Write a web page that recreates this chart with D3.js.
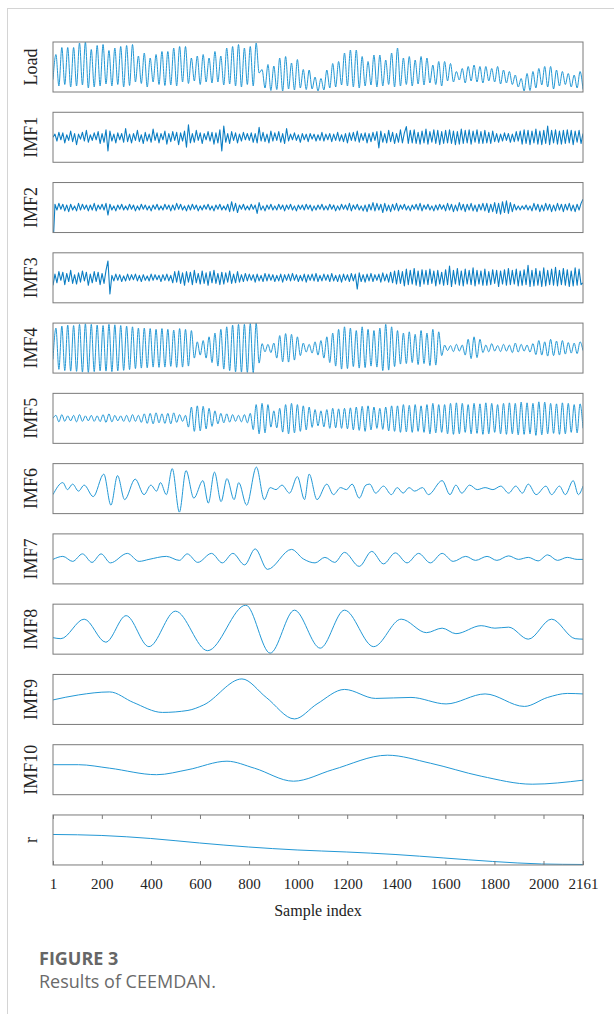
<!DOCTYPE html>
<html>
<head>
<meta charset="utf-8">
<script src="https://cdn.jsdelivr.net/npm/d3@7/dist/d3.min.js"></script>
<style>
  body { margin: 0; background: #fff; }
  svg { display: block; }
</style>
</head>
<body>
<div id="chart"></div>
<script>
// panel order, top to bottom
var panelNames = ['Load', 'IMF1', 'IMF2', 'IMF3', 'IMF4', 'IMF5', 'IMF6', 'IMF7', 'IMF8', 'IMF9', 'IMF10', 'r']
var xTicks = [1, 200, 400, 600, 800, 1000, 1200, 1400, 1600, 1800, 2000, 2161]
var sampleCount = 2161

// Load, read every 12 samples (trough, peak, trough, ...)
var loadStep = 12
var loadSeries = [
  25, 75, 12, 89, 15, 89, 10, 89, 12, 98, 14, 100, 8, 85, 10, 93, 12, 95, 16, 83,
  12, 88, 15, 91, 10, 93, 13, 95, 20, 72, 17, 78, 10, 68, 20, 75, 15, 81, 13, 81,
  14, 88, 12, 91, 20, 91, 17, 68, 22, 72, 15, 75, 20, 68, 18, 81, 20, 72, 14, 88,
  16, 91, 12, 95, 10, 88, 15, 91, 12, 98, 38, 45, 8, 55, 3, 52, 5, 68, 2, 71,
  6, 58, 4, 65, 8, 45, 5, 44, 6, 30, 2, 27, 4, 44, 8, 57, 10, 61, 14, 78,
  12, 84, 10, 84, 8, 71, 12, 61, 14, 74, 10, 74, 12, 64, 15, 78, 10, 88, 12, 68,
  15, 71, 12, 64, 16, 71, 14, 68, 18, 54, 15, 61, 12, 61, 22, 57, 20, 41, 24, 47,
  18, 51, 22, 54, 20, 51, 18, 51, 22, 47, 20, 51, 16, 44, 18, 41, 15, 34, 10, 27,
  2, 37, 3, 41, 8, 47, 14, 51, 10, 51, 6, 44, 12, 41, 15, 37, 10, 34, 8, 41,
  5
]

// IMF1, read every 8 samples
var imf1Step = 8
var imf1Series = [
  0, 5, -6, 8, -4, 7, -9, 4, -5, 10, -7, 6, -12, 5, -3, 8, -6, 11, -8, 4,
  -5, 7, -4, 9, -10, 6, -8, 12, -22, 10, -6, 5, -9, 7, -4, 6, -8, 14, -7, 5,
  -9, 6, -5, 11, -7, 4, -10, 8, -6, 5, -8, 13, -5, 7, -9, 6, -4, 10, -11, 6,
  -7, 9, -5, 8, -12, 7, -6, 10, -16, 20, -9, 6, -8, 11, -5, 7, -10, 6, -4, 9,
  -6, 8, -11, 7, -9, 12, -22, 18, -8, 6, -10, 9, -5, 7, -9, 5, -6, 8, -4, 6,
  -5, 7, -8, 6, -9, 16, -6, 8, -7, 5, -9, 10, -6, 7, -5, 9, -8, 6, -10, 14,
  -6, 5, -4, 7, -5, 4, -8, 6, -4, 5, -7, 6, -3, 5, -6, 4, -5, 8, -6, 5,
  -4, 6, -7, 5, -5, 8, -6, 4, -7, 6, -9, 7, -5, 8, -6, 10, -8, 6, -5, 7,
  -9, 6, -7, 8, -5, 9, -17, 10, -8, 6, -9, 11, -7, 8, -10, 6, -8, 12, -9, 7,
  17, -10, 11, -9, 12, -10, 8, -11, 10, -9, 13, -11, 9, -8, 12, -10, 11, -12, 9, -10,
  11, -9, 12, -10, 10, -12, 9, -11, 13, -10, 11, -9, 12, -11, 10, -8, 12, -10, 9, -10,
  11, -9, 8, -10, 10, -7, 6, -8, 5, -6, 7, -5, 6, -8, 5, -7, 9, -6, 10, -11,
  12, -10, 11, -12, 10, -9, 13, -11, 10, -12, 11, -10, 18, -12, 11, -9, 12, -11, 10, -11,
  11, -10, 12, -9, 11, -12, 10, -8, 11, -10, 6
]

// IMF2, read every 8 samples
var imf2Step = 8
var imf2Series = [
  -48, 4, -3, 5, -2, 4, -4, 3, -5, 4, -3, 2, -4, 5, -3, 4, -2, 3, -4, 3,
  -3, 5, -4, 3, -2, 4, -3, 5, -9, 4, -3, 2, -4, 3, -2, 4, -3, 2, -3, 4,
  -2, 3, -4, 2, -3, 4, -2, 3, -3, 2, -4, 3, -2, 4, -3, 2, -3, 4, -2, 3,
  -4, 3, -3, 5, -2, 4, -3, 2, -4, 3, -3, 4, -2, 3, -4, 2, -3, 3, -2, 4,
  -3, 2, -4, 3, -2, 4, -3, 2, -3, 4, -5, 7, -4, 5, -6, 3, -2, 4, -3, 2,
  -3, 4, -2, 3, -7, 6, -3, 2, -4, 3, -2, 4, -3, 2, -3, 4, -2, 3, -4, 3,
  -2, 4, -3, 2, -4, 3, -2, 3, -3, 4, -2, 3, -4, 2, -3, 3, -2, 4, -3, 2,
  -3, 4, -2, 3, -4, 2, -3, 4, -2, 3, -3, 5, -4, 3, -2, 4, -3, 2, -4, 3,
  -5, 4, -3, 6, -4, 5, -3, 4, -6, 5, -4, 3, -5, 4, -3, 5, -4, 3, -2, 4,
  -3, 2, -4, 3, -2, 4, -3, 5, -4, 3, -2, 4, -3, 2, -4, 3, -3, 4, -2, 3,
  -4, 5, -3, 4, -5, 3, -4, 6, -3, 4, -5, 4, -3, 5, -4, 3, -5, 4, -3, 5,
  -4, 5, -6, 4, -5, 6, -7, 5, -8, 7, -6, 8, -7, 6, -5, 4, -3, 2, -3, 2,
  -2, 3, -3, 2, -4, 5, -3, 4, -5, 3, -4, 5, -3, 4, -5, 3, -4, 5, -3, 4,
  -5, 4, -3, 5, -4, 3, -5, 4, -3, 5, 10
]

// IMF3, read every 8 samples
var imf3Step = 8
var imf3Series = [
  -12, 6, -8, 10, -4, 9, -11, 7, -6, 12, -9, 5, -10, 8, -7, 11, -5, 9, -12, 6,
  -8, 10, -6, 9, -11, 7, -9, 12, 27, -26, 4, -5, 6, -4, 5, -6, 3, -5, 6, -4,
  5, -3, 6, -5, 4, -6, 5, -4, 3, -5, 6, -4, 5, -3, 4, -6, 5, -4, 6, -5,
  4, -8, 10, -7, 11, -9, 8, -12, 10, -7, 9, -11, 12, -8, 7, -10, 11, -9, 8, -12,
  10, -8, 12, -9, 7, -11, 9, -10, 8, -7, 11, -9, 6, -8, 10, -7, 5, -6, 7, -5,
  6, -4, 5, -7, 6, -5, 4, -6, 7, -5, 6, -4, 5, -6, 4, -5, 6, -7, 5, -4,
  6, -5, 7, -4, 5, -6, 4, -5, 6, -7, 5, -4, 6, -5, 7, -6, 4, -5, 6, -4,
  5, -6, 7, -5, 4, -6, 5, -7, 6, -4, 5, -6, 7, -5, 6, -18, 8, -6, 5, -7,
  6, -5, 7, -6, 5, -4, 6, -7, 8, -5, 6, -7, 9, -8, 11, -10, 12, -9, 10, -13,
  14, -11, 12, -10, 15, -12, 11, -14, 13, -10, 12, -11, 14, -9, 11, -13, 12, -10, 9, -12,
  13, -11, 19, -14, 12, -10, 15, -12, 11, -13, 14, -10, 12, -11, 16, -13, 12, -10, 11, -12,
  14, -12, 10, -11, 13, -9, 12, -14, 11, -10, 13, -12, 15, -11, 12, -10, 14, -13, 11, -12,
  13, -11, 20, -14, 12, -13, 15, -12, 11, -14, 16, -13, 12, -11, 14, -12, 17, -13, 12, -11,
  15, -12, 13, -14, 11, -13, 16, -12, 14, -11, -8
]

// IMF4, read every 12 samples
var imf4Step = 12
var imf4Series = [
  -45, 80, -85, 88, -90, 92, -92, 90, -93, 95, -96, 97, -97, 95, -94, 92, -91, 90, -92, 95,
  -94, 93, -91, 90, -89, 88, -86, 85, -82, 80, -80, 80, -79, 78, -76, 75, -77, 78, -76, 75,
  -73, 72, -77, 78, -76, 75, -72, 70, -40, 25, -28, 30, -40, 45, -58, 60, -72, 75, -84, 85,
  -90, 92, -95, 95, -96, 95, -97, 98, -98, 100, -60, 18, -15, 15, -18, 20, -40, 50, -55, 58,
  -56, 55, -48, 45, -30, 20, -16, 15, -20, 25, -28, 30, -40, 45, -58, 60, -72, 75, -84, 85,
  -82, 80, -74, 70, -80, 85, -78, 75, -72, 70, -76, 80, -90, 95, -88, 85, -74, 70, -64, 60,
  -62, 65, -58, 55, -66, 70, -62, 60, -70, 75, -68, 65, -30, 12, -10, 10, -14, 15, -12, 12,
  -28, 35, -42, 45, -38, 35, -18, 12, -15, 18, -12, 10, -14, 15, -12, 12, -18, 20, -16, 15,
  -12, 12, -16, 18, -26, 30, -28, 25, -32, 35, -30, 28, -28, 30, -24, 22, -20, 20, -22, 25,
  -10
]

// IMF5, read every 12 samples
var imf5Step = 12
var imf5Series = [
  0, 12, -14, 15, -12, 10, -10, 12, -14, 15, -12, 10, -10, 12, -12, 10, -13, 15, -16, 18,
  -14, 12, -10, 10, -12, 12, -14, 15, -12, 12, -16, 18, -20, 20, -22, 22, -18, 18, -20, 20,
  -22, 22, -16, 15, -12, 12, -35, 45, -52, 50, -50, 48, -42, 40, -32, 30, -22, 20, -18, 18,
  -15, 15, -12, 12, -14, 15, -18, 20, -45, 55, -62, 60, -58, 55, -35, 30, -38, 40, -55, 55,
  -62, 60, -58, 55, -52, 50, -46, 45, -36, 35, -30, 30, -34, 35, -40, 40, -38, 38, -40, 40,
  -42, 42, -46, 45, -48, 48, -52, 50, -46, 45, -40, 40, -44, 45, -50, 50, -52, 50, -56, 55,
  -54, 52, -56, 55, -52, 50, -56, 55, -62, 60, -58, 55, -56, 55, -62, 60, -64, 62, -62, 60,
  -56, 55, -62, 60, -60, 58, -64, 62, -62, 60, -56, 55, -62, 60, -64, 62, -62, 60, -66, 65,
  -64, 62, -62, 60, -68, 66, -66, 65, -62, 60, -60, 58, -64, 62, -62, 60, -56, 55, -58, 58,
  -40
]

// lower-frequency modes: sample index of each turning point and its value
var imf6Index = [1, 41, 60, 81, 105, 128, 165, 208, 237, 264, 293, 336, 372, 400, 423, 439, 463, 487, 516, 543,
  575, 612, 634, 659, 686, 710, 739, 758, 790, 830, 862, 886, 910, 934, 965, 997, 1026, 1045, 1077, 1117,
  1144, 1173, 1197, 1220, 1249, 1276, 1292, 1316, 1348, 1380, 1404, 1428, 1452, 1475, 1507, 1531, 1587, 1619, 1643, 1667,
  1699, 1730, 1762, 1794, 1826, 1858, 1887, 1914, 1938, 1970, 2010, 2033, 2065, 2089, 2121, 2142, 2161]
var imf6Values = [-24, 24, -4, 18, -10, 14, -32, 58, -66, 52, -44, 38, -24, 14, -10, 24, -24, 80, -94, 72,
  -38, 32, -58, 66, -52, 40, -44, 24, -66, 86, -44, 4, -4, 14, -18, 48, -44, 58, -44, 18,
  -24, 4, -4, 18, -38, 14, 18, -18, 10, -24, 4, -18, 4, -10, 4, -24, 32, -24, 14, -18,
  14, -4, 4, -4, 10, -18, 10, -18, 18, -24, 10, -24, 10, -24, 32, -24, 10]

var imf7Index = [1, 41, 81, 121, 160, 197, 235, 304, 352, 392, 463, 516, 548, 591, 647, 691, 734, 782, 825, 875,
  973, 1021, 1069, 1109, 1149, 1189, 1249, 1300, 1348, 1396, 1444, 1491, 1539, 1587, 1632, 1683, 1723, 1770, 1810, 1858,
  1898, 1938, 1978, 2017, 2057, 2097, 2137, 2161]
var imf7Values = [-2, 10, -10, 20, -14, 20, -16, 22, -10, -2, 10, -6, 20, -14, 22, -16, 22, -24, 40, -42,
  38, 0, -16, 6, -14, 26, -30, 30, -20, 24, -16, 22, -16, 22, -10, 10, -6, 10, -6, 12,
  -2, 6, -8, 16, -6, 6, -2, -2]

var imf8Index = [1, 33, 128, 216, 299, 392, 500, 631, 787, 886, 985, 1090, 1189, 1308, 1420, 1523, 1587, 1643, 1746, 1802,
  1858, 1938, 2033, 2129, 2161]
var imf8Values = [-34, -38, 40, -52, 54, -70, 72, -86, 96, -96, 76, -76, 76, -70, 40, -14, 4, -18, 14, 4,
  8, -40, 40, -38, -40]

var imf9Index = [1, 105, 232, 328, 447, 551, 615, 771, 870, 985, 1077, 1189, 1316, 1460, 1603, 1762, 1922, 2017, 2097, 2161]
var imf9Values = [-2, 18, 30, -12, -52, -44, -22, 82, 8, -78, -18, 40, 4, 8, -18, 22, -28, 8, 24, 22]

var imf10Index = [1, 105, 232, 423, 551, 710, 822, 981, 1141, 1364, 1539, 1746, 1954, 2161]
var imf10Values = [20, 20, 6, -20, 0, 34, 6, -46, 0, 58, 26, -26, -58, -42]

var resIndex = [1, 200, 399, 598, 797, 996, 1196, 1395, 1594, 1793, 1992, 2161]
var resValues = [61, 59, 53, 44, 36, 30, 26, 21, 14, 7, 2, 1]

var width = 614
var height = 1014
var plotLeft = 53
var plotRight = 583
var firstTop = 42
var panelGap = 70.27
var panelHeight = 50
var lineColor = '#2398d5'
var denseColor = '#0c7ec3'
var serif = '"Liberation Serif", "Times New Roman", serif'

function regular (values, step) {
  return values.map(function (v, i) { return { i: 1 + step * i, v: v } })
}

function knots (index, values) {
  return index.map(function (s, k) { return { i: s, v: values[k] } })
}

var panels = [
  { data: regular(loadSeries, loadStep), domain: [0, 100], curve: d3.curveMonotoneX, w: 1, c: lineColor },
  { data: regular(imf1Series, imf1Step), domain: [-40, 40], curve: d3.curveLinear, w: 1.1, c: denseColor },
  { data: regular(imf2Series, imf2Step), domain: [-30, 30], curve: d3.curveLinear, w: 1.1, c: denseColor },
  { data: regular(imf3Series, imf3Step), domain: [-40, 40], curve: d3.curveLinear, w: 1.1, c: denseColor },
  { data: regular(imf4Series, imf4Step), domain: [-100, 100], curve: d3.curveMonotoneX, w: 1, c: lineColor },
  { data: regular(imf5Series, imf5Step), domain: [-100, 100], curve: d3.curveMonotoneX, w: 1, c: lineColor },
  { data: knots(imf6Index, imf6Values), domain: [-100, 100], curve: d3.curveMonotoneX, w: 1, c: lineColor },
  { data: knots(imf7Index, imf7Values), domain: [-100, 100], curve: d3.curveMonotoneX, w: 1, c: lineColor },
  { data: knots(imf8Index, imf8Values), domain: [-100, 100], curve: d3.curveMonotoneX, w: 1, c: lineColor },
  { data: knots(imf9Index, imf9Values), domain: [-100, 100], curve: d3.curveMonotoneX, w: 1, c: lineColor },
  { data: knots(imf10Index, imf10Values), domain: [-100, 100], curve: d3.curveMonotoneX, w: 1, c: lineColor },
  { data: knots(resIndex, resValues), domain: [0, 100], curve: d3.curveMonotoneX, w: 1, c: lineColor }
]

var svg = d3.select('#chart').append('svg')
  .attr('width', width)
  .attr('height', height)

// page frame lines
svg.append('line')
  .attr('x1', 7).attr('x2', width).attr('y1', 8.5).attr('y2', 8.5)
  .attr('stroke', '#d4d4d4').attr('stroke-width', 1)
svg.append('line')
  .attr('x1', 7.5).attr('x2', 7.5).attr('y1', 8).attr('y2', height)
  .attr('stroke', '#d4d4d4').attr('stroke-width', 1)

var x = d3.scaleLinear()
  .domain([1, sampleCount])
  .range([plotLeft, plotRight])

var defs = svg.append('defs')

panels.forEach(function (p, n) {
  var top = firstTop + panelGap * n
  var y = d3.scaleLinear()
    .domain(p.domain)
    .range([top + panelHeight, top])

  defs.append('clipPath')
    .attr('id', 'clip' + n)
    .append('rect')
    .attr('x', plotLeft)
    .attr('y', top)
    .attr('width', plotRight - plotLeft)
    .attr('height', panelHeight)

  var line = d3.line()
    .x(function (d) { return x(d.i) })
    .y(function (d) { return y(d.v) })
    .curve(p.curve)

  svg.append('path')
    .datum(p.data)
    .attr('clip-path', 'url(#clip' + n + ')')
    .attr('fill', 'none')
    .attr('stroke', p.c)
    .attr('stroke-width', p.w)
    .attr('stroke-linejoin', 'round')
    .attr('d', line)

  svg.append('rect')
    .attr('x', plotLeft)
    .attr('y', top)
    .attr('width', plotRight - plotLeft)
    .attr('height', panelHeight)
    .attr('fill', 'none')
    .attr('stroke', '#7a7a7a')
    .attr('stroke-width', 1)

  svg.append('text')
    .attr('transform', 'translate(31,' + (top + panelHeight / 2) + ') rotate(-90)')
    .attr('text-anchor', 'middle')
    .attr('dy', '0.35em')
    .style('font-family', serif)
    .style('font-size', '18px')
    .style('fill', '#222')
    .text(panelNames[n])

  if (n === panels.length - 1) {
    var bottomAxis = d3.axisBottom(x)
      .tickValues(xTicks)
      .tickSizeInner(-4)
      .tickSizeOuter(0)
      .tickPadding(13)
      .tickFormat(d3.format('d'))
    var topAxis = d3.axisTop(x)
      .tickValues(xTicks)
      .tickSizeInner(-4)
      .tickSizeOuter(0)
      .tickFormat('')

    var gb = svg.append('g')
      .attr('transform', 'translate(0,' + (top + panelHeight) + ')')
      .call(bottomAxis)
    var gt = svg.append('g')
      .attr('transform', 'translate(0,' + top + ')')
      .call(topAxis)
    ;[gb, gt].forEach(function (g) {
      g.select('.domain').remove()
      g.selectAll('.tick line').attr('stroke', '#7a7a7a')
    })
    gb.selectAll('.tick text')
      .style('font-family', serif)
      .style('font-size', '15px')
      .style('fill', '#222')

    svg.append('text')
      .attr('x', (plotLeft + plotRight) / 2)
      .attr('y', top + panelHeight + 51)
      .attr('text-anchor', 'middle')
      .style('font-family', serif)
      .style('font-size', '16px')
      .style('fill', '#222')
      .text('Sample index')
  }
})

svg.append('text')
  .attr('x', 39)
  .attr('y', 965)
  .style('font-family', '"Open Sans", sans-serif')
  .style('font-weight', 700)
  .style('font-size', '18px')
  .style('fill', '#666')
  .text('FIGURE 3')

svg.append('text')
  .attr('x', 39)
  .attr('y', 988)
  .style('font-family', '"Open Sans", sans-serif')
  .style('font-size', '18px')
  .style('fill', '#6a6a6a')
  .text('Results of CEEMDAN.')
</script>
</body>
</html>
